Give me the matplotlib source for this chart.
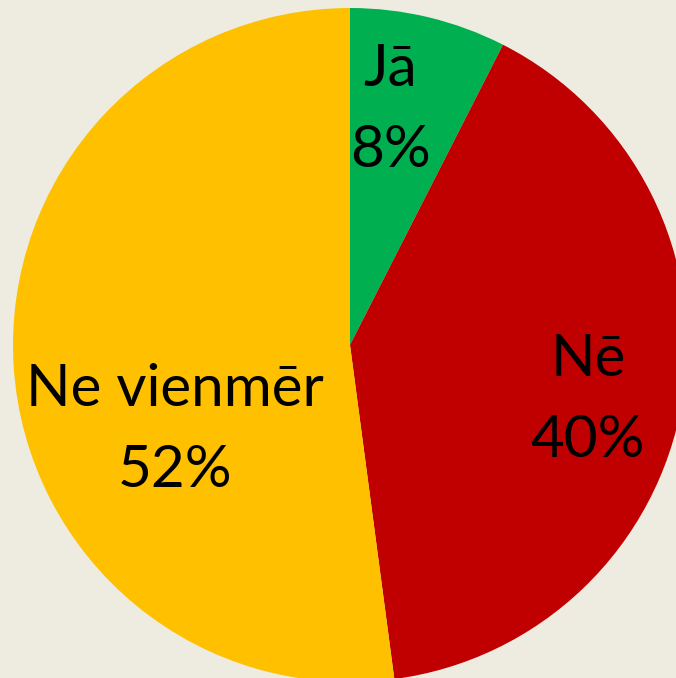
import matplotlib.pyplot as plt

# slice data
categories = ['Jā', 'Nē', 'Ne vienmēr']
shares = [7.5, 40.4, 52.1]
pct_labels = ['8%', '40%', '52%']
colors = ['#00B050', '#C00000', '#FFC000']

bg = '#EEECE1'
fig = plt.figure(figsize=(6.76, 6.78), dpi=100, facecolor=bg)
ax = fig.add_axes([0, 0, 1, 1])
ax.set_facecolor(bg)

# pie centre at pixel (350, 345), radius 337 px
r_px = 337
ax.pie(shares, colors=colors, startangle=90, counterclock=False,
       radius=1, wedgeprops={'linewidth': 0})
ax.set_xlim(-350 / r_px, (676 - 350) / r_px)
ax.set_ylim(-(678 - 345) / r_px, 345 / r_px)
ax.set_aspect('equal')
ax.axis('off')

# label centres in pixels
label_px = [(390, 110), (588, 400), (175, 430)]
for name, pct, (px, py) in zip(categories, pct_labels, label_px):
    ax.text((px - 350) / r_px, (345 - py) / r_px, f'{name}\n{pct}',
            ha='center', va='center', fontsize=42, family='Lato',
            linespacing=1.65, color='black')

fig.savefig('out.png', dpi=100, facecolor=bg)
